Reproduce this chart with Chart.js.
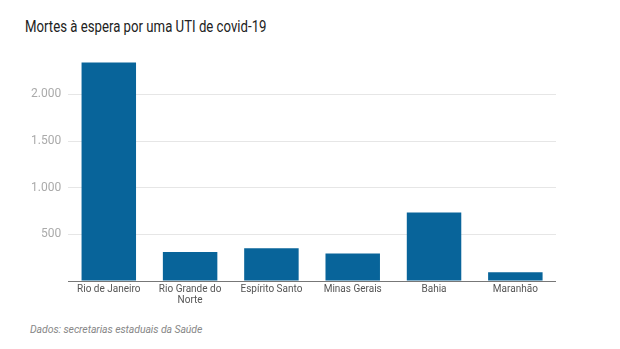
<!DOCTYPE html>
<html>
<head>
<meta charset="utf-8">
<script src="https://cdn.jsdelivr.net/npm/chart.js@4"></script>
<style>
  body { margin: 0; background: #fff; width: 620px; height: 349px; overflow: hidden; position: relative; }
  #title { position: absolute; left: 25px; top: 17px; font-family: Roboto, sans-serif; font-size: 16.5px; color: #222; transform: scaleX(0.8); transform-origin: left top; white-space: nowrap; }
  #source { position: absolute; left: 30px; top: 323px; font-family: Roboto, sans-serif; font-style: italic; font-size: 10.5px; letter-spacing: -0.1px; color: #888; }
  #wrap { position: absolute; left: 0; top: 40px; width: 556px; height: 269px; }
</style>
</head>
<body>
<div id="title">Mortes à espera por uma UTI de covid-19</div>
<div id="wrap"><canvas id="chart"></canvas></div>
<div id="source">Dados: secretarias estaduais da Saúde</div>
<script>
const states = ['Rio de Janeiro', ['Rio Grande do', 'Norte'], 'Espírito Santo', 'Minas Gerais', 'Bahia', 'Maranhão'];
const deaths = [2340, 310, 350, 295, 735, 95];
const yTicks = [500, 1000, 1500, 2000];

const fmt = v => v.toLocaleString('pt-BR');

new Chart(document.getElementById('chart'), {
  type: 'bar',
  data: {
    labels: states,
    datasets: [{
      data: deaths,
      backgroundColor: '#08649a',
      categoryPercentage: 1,
      barPercentage: 0.67
    }]
  },
  options: {
    responsive: true,
    maintainAspectRatio: false,
    animation: false,
    layout: { padding: { top: 17, left: 24, right: 0, bottom: 0 } },
    plugins: { legend: { display: false }, tooltip: { enabled: false } },
    scales: {
      x: {
        grid: { display: false, drawTicks: false },
        border: { display: true, color: '#777', width: 1 },
        ticks: {
          color: '#555',
          padding: 3,
          maxRotation: 0,
          font: { family: 'Roboto, sans-serif', size: 10, lineHeight: 1.1 }
        }
      },
      y: {
        min: 0,
        max: 2400,
        afterBuildTicks: scale => { scale.ticks = [0].concat(yTicks).map(v => ({ value: v })); },
        grid: { color: ctx => ctx.tick && ctx.tick.value === 0 ? 'rgba(0,0,0,0)' : '#e6e6e6', drawTicks: false },
        border: { display: false },
        ticks: {
          color: '#aaa',
          padding: 7,
          callback: v => v === 0 ? '' : fmt(v),
          font: { family: 'Roboto, sans-serif', size: 12 }
        }
      }
    }
  }
});
</script>
</body>
</html>
